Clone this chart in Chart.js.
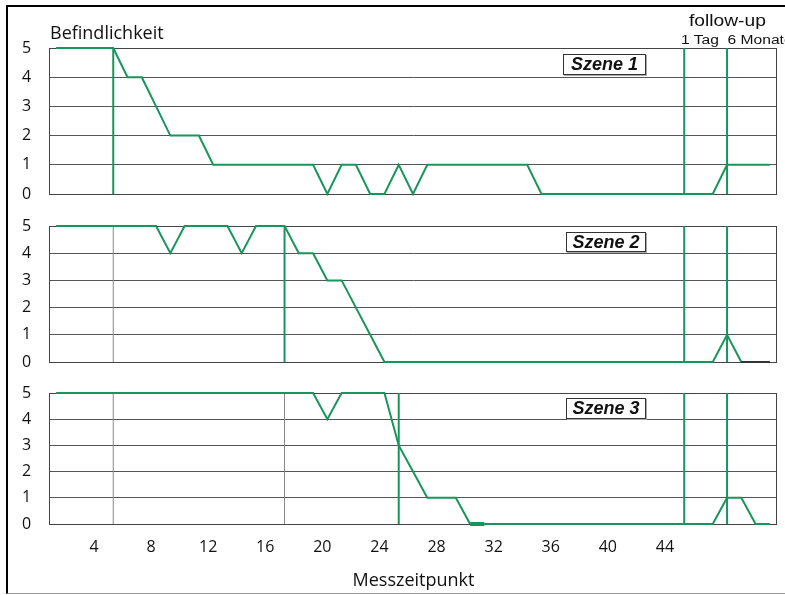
<!DOCTYPE html>
<html>
<head>
<meta charset="utf-8">
<script src="https://cdn.jsdelivr.net/npm/chart.js@4.4.1/dist/chart.umd.min.js"></script>
<style>
html, body { margin: 0; padding: 0; background: #fff; }
body { width: 785px; height: 595px; position: relative; overflow: hidden; font-family: "Open Sans", sans-serif; color: #111; }
#frame { position: absolute; left: 6px; top: 5px; width: 820px; height: 586px; border-left: 2px solid #000; border-top: 2px solid #000; border-bottom: 1px solid #999; }
canvas { position: absolute; left: 0; }
.lbl { position: absolute; white-space: nowrap; }
.szene { position: absolute; font-family: "Liberation Sans", Arial, sans-serif; font-weight: bold; font-style: italic; font-size: 18px; line-height: 19px; border: 1px solid #333; box-shadow: 1px 1px 0 #aaa; background: #fff; text-align: center; }
</style>
</head>
<body>
<div id="frame"></div>
<canvas id="c1" width="785" height="210" style="top:0px"></canvas>
<canvas id="c2" width="785" height="180" style="top:200px"></canvas>
<canvas id="c3" width="785" height="225" style="top:370px"></canvas>

<div class="lbl" style="left:50px; top:23px; font-size:18px; line-height:18px;">Befindlichkeit</div>
<div class="lbl" style="left:689px; top:13px; font-family:'Liberation Sans',Arial,sans-serif; font-size:16px; line-height:16px; transform:scaleX(1.2); transform-origin:left;">follow-up</div>
<div class="lbl" style="left:681px; top:34px; font-family:'Liberation Sans',Arial,sans-serif; font-size:12px; line-height:12px; transform:scaleX(1.3); transform-origin:left;">1 Tag&nbsp; 6 Monate</div>

<div class="szene" style="left:563px; top:54px; width:81px; height:19px;">Szene 1</div>
<div class="szene" style="left:566px; top:232px; width:78px; height:18px;">Szene 2</div>
<div class="szene" style="left:566px; top:398px; width:78px; height:19px;">Szene 3</div>

<script>
/* DATA */
const messpunkte = [1, 2, 3, 4, 5, 6, 7, 8, 9, 10, 11, 12, 13, 14, 15, 16, 17, 18, 19, 20,
  21, 22, 23, 24, 25, 26, 27, 28, 29, 30, 31, 32, 33, 34, 35, 36, 37, 38, 39, 40,
  41, 42, 43, 44, 45, 46, 47, 48, 49, 50, 51];

const szene1 = [5, 5, 5, 5, 5, 4, 4, 3, 2, 2, 2, 1, 1, 1, 1, 1, 1, 1, 1, 0,
  1, 1, 0, 0, 1, 0, 1, 1, 1, 1, 1, 1, 1, 1, 0, 0, 0, 0, 0, 0,
  0, 0, 0, 0, 0, 0, 0, 1, 1, 1, 1];

const szene2 = [5, 5, 5, 5, 5, 5, 5, 5, 4, 5, 5, 5, 5, 4, 5, 5, 5, 4, 4, 3,
  3, 2, 1, 0, 0, 0, 0, 0, 0, 0, 0, 0, 0, 0, 0, 0, 0, 0, 0, 0,
  0, 0, 0, 0, 0, 0, 0, 1, 0, 0, 0];

const szene3 = [5, 5, 5, 5, 5, 5, 5, 5, 5, 5, 5, 5, 5, 5, 5, 5, 5, 5, 5, 4,
  5, 5, 5, 5, 3, 2, 1, 1, 1, 0, 0, 0, 0, 0, 0, 0, 0, 0, 0, 0,
  0, 0, 0, 0, 0, 0, 0, 1, 1, 0, 0];

const xTicks = [4, 8, 12, 16, 20, 24, 28, 32, 36, 40, 44];

/* PHASE MARKERS */
const phaseLine = [5, 17, 25];          // start of intervention per scene
const carryLines = [[], [5], [5, 17]];  // earlier phase changes, thin gray
const followUp = [45, 48];              // 1 Tag, 6 Monate

const GREEN = "#17965b";
const FONT = { family: "Open Sans", size: 16 };

/* frame round the plot area */
const frameBox = {
  id: "frameBox",
  beforeDatasetsDraw(chart) {
    const { ctx, chartArea: a } = chart;
    ctx.save();
    ctx.strokeStyle = "#444";
    ctx.lineWidth = 1;
    ctx.strokeRect(Math.round(a.left) - 0.5, Math.round(a.top) + 0.5,
      Math.round(a.right - a.left), Math.round(a.bottom - a.top));
    ctx.restore();
  }
};

function vertical(x, color, width) {
  return {
    data: [{ x, y: 0 }, { x, y: 5 }],
    borderColor: color,
    borderWidth: width,
    pointRadius: 0,
    clip: 2
  };
}

function panelOptions(padTop, padBottom, showX) {
  return {
    responsive: false,
    animation: false,
    layout: { padding: { top: padTop, bottom: padBottom, left: 22, right: 8 } },
    plugins: { legend: { display: false }, tooltip: { enabled: false } },
    scales: {
      x: {
        type: "linear",
        min: 0.57,
        max: 51.5,
        display: showX,
        grid: { display: false, drawTicks: false },
        border: { display: false },
        afterBuildTicks: s => { s.ticks = xTicks.map(v => ({ value: v })); },
        afterFit: s => { if (showX) s.height = 71; },
        ticks: { color: "#111", font: FONT, padding: 14, labelOffset: -5, maxRotation: 0, autoSkip: false },
        title: { display: true, text: "Messzeitpunkt", color: "#111", font: { family: "Open Sans", size: 18 }, padding: { top: 0, bottom: 3 } }
      },
      y: {
        min: 0,
        max: 5,
        afterFit: s => { s.width = 28; },
        grid: { color: "#555", lineWidth: 1, drawTicks: false },
        border: { display: false },
        ticks: { stepSize: 1, padding: 0, crossAlign: "far", color: "#111", font: FONT }
      }
    }
  };
}

function createPanel(id, values, idx, padTop, padBottom, showX, segment) {
  const datasets = [];
  datasets.push({
    data: messpunkte.map((x, i) => ({ x, y: values[i] })),
    borderColor: GREEN,
    borderWidth: 2,
    pointRadius: 0,
    tension: 0,
    clip: 3,
    segment: segment || {}
  });
  datasets.push(vertical(phaseLine[idx], GREEN, 2));
  followUp.forEach(x => datasets.push(vertical(x, GREEN, 2)));
  carryLines[idx].forEach(x => datasets.push(vertical(x, "#888", 1)));
  return new Chart(document.getElementById(id).getContext("2d"), {
    type: "line",
    data: { datasets },
    options: panelOptions(padTop, padBottom, showX),
    plugins: [frameBox]
  });
}

createPanel("c1", szene1, 0, 48, 16, false);
createPanel("c2", szene2, 1, 26, 18, false, {
  borderColor: ctx => ctx.p0.parsed.x >= 49 ? "#333" : undefined
});
createPanel("c3", szene3, 2, 23, 0, true, {
  borderWidth: ctx => ctx.p0.parsed.x === 30 ? 4 : undefined
});
</script>
</body>
</html>
